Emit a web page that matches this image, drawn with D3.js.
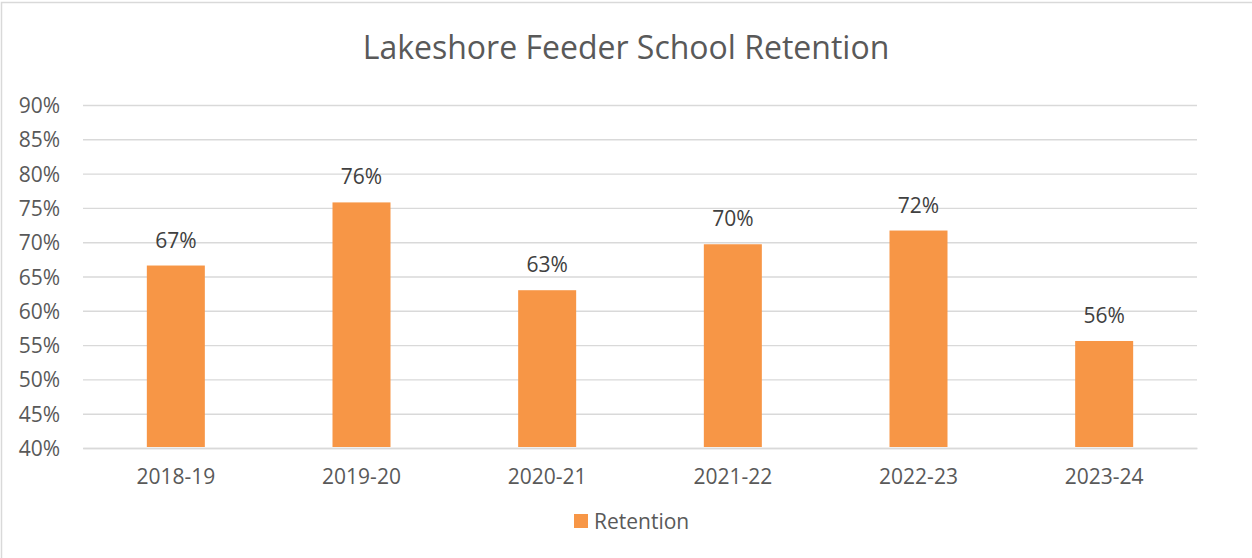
<!DOCTYPE html>
<meta charset="utf-8">
<script src="https://d3js.org/d3.v7.min.js"></script>
<style>
  body { margin: 0; background: #fff; }
  text { font-family: "Open Sans", "Noto Sans", sans-serif; }
</style>
<div id="chart"></div>
<script>
  // data
  var years = ["2018-19", "2019-20", "2020-21", "2021-22", "2022-23", "2023-24"];
  var retention = [0.666, 0.758, 0.630, 0.697, 0.717, 0.556];
  var yTicks = [0.40, 0.45, 0.50, 0.55, 0.60, 0.65, 0.70, 0.75, 0.80, 0.85, 0.90];
  var seriesName = "Retention";
  var title = "Lakeshore Feeder School Retention";

  var W = 1252, H = 558;
  var plot = { left: 83, right: 1197, top: 105, bottom: 448 };
  var orange = "#F79646", grey = "#595959", grid = "#D9D9D9";

  var svg = d3.select("#chart").append("svg")
    .attr("width", W)
    .attr("height", H);

  // chart frame
  svg.append("rect")
    .attr("x", 1.5).attr("y", 2.5)
    .attr("width", W + 10).attr("height", H + 10)
    .attr("fill", "#fff")
    .attr("stroke", grid)
    .attr("stroke-width", 1.5);

  var x = d3.scaleBand()
    .domain(years)
    .range([plot.left, plot.right])
    .paddingInner(0.6876)
    .paddingOuter(0.3438);

  var y = d3.scaleLinear()
    .domain([0.40, 0.90])
    .range([plot.bottom, plot.top]);

  // gridlines + y labels
  var yAxis = d3.axisLeft(y)
    .tickValues(yTicks)
    .tickFormat(d3.format(".0%"))
    .tickSize(-(plot.right - plot.left))
    .tickPadding(23);

  var gy = svg.append("g")
    .attr("transform", "translate(" + plot.left + ",0)")
    .call(yAxis);
  gy.select(".domain").remove();
  gy.selectAll("line").attr("stroke", grid).attr("stroke-width", 1.4);
  gy.selectAll("text")
    .attr("fill", grey)
    .attr("font-size", 21)
    .attr("dy", "0.36em");

  // x axis labels
  var gx = svg.append("g")
    .attr("transform", "translate(0," + plot.bottom + ")")
    .call(d3.axisBottom(x).tickSize(0).tickPadding(21));
  gx.select(".domain").attr("stroke", grid).attr("stroke-width", 1.4);
  gx.selectAll("text")
    .attr("fill", grey)
    .attr("font-size", 21);

  // bars
  svg.append("g")
    .selectAll("rect")
    .data(retention)
    .enter()
    .append("rect")
    .attr("x", function (d, i) { return x(years[i]); })
    .attr("y", function (d) { return y(d); })
    .attr("width", x.bandwidth())
    .attr("height", function (d) { return plot.bottom - 1 - y(d); })
    .attr("fill", orange);

  // data labels
  svg.append("g")
    .selectAll("text")
    .data(retention)
    .enter()
    .append("text")
    .attr("x", function (d, i) { return x(years[i]) + x.bandwidth() / 2; })
    .attr("y", function (d) { return y(d) - 18; })
    .attr("text-anchor", "middle")
    .attr("fill", "#404040")
    .attr("font-size", 21)
    .text(function (d) { return d3.format(".0%")(d); });

  // title
  svg.append("text")
    .attr("x", 626)
    .attr("y", 59)
    .attr("text-anchor", "middle")
    .attr("fill", grey)
    .attr("font-size", 32)
    .text(title);

  // legend
  var lg = svg.append("g").attr("transform", "translate(574,514)");
  lg.append("rect")
    .attr("width", 14).attr("height", 14)
    .attr("fill", orange);
  lg.append("text")
    .attr("x", 20).attr("y", 7)
    .attr("dy", "0.36em")
    .attr("fill", grey)
    .attr("font-size", 21)
    .text(seriesName);
</script>
